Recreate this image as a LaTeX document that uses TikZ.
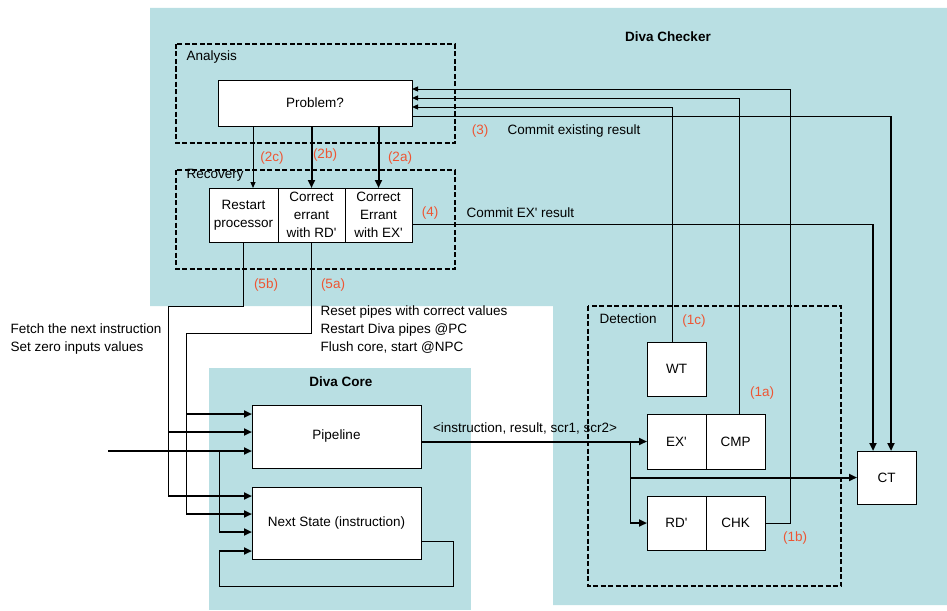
\documentclass[tikz,border=0pt]{standalone}
\usepackage{fontspec}
\setmainfont{Liberation Sans}
\usepackage{tikz}
\usetikzlibrary{positioning,arrows.meta,calc}
\definecolor{panel}{HTML}{B9DFE3}
\definecolor{stepred}{HTML}{EE5533}
\newcommand{\dfont}{\fontsize{13.5}{18}\selectfont}

\begin{document}
\begin{tikzpicture}[
  x=1pt,y=-1pt,font=\dfont,>={Triangle[length=6pt,width=5pt]},
  wire/.style={line width=1pt},
  bold/.style={line width=2pt,>={Triangle[length=8pt,width=7pt]}},
  blk/.style={draw,fill=white,line width=1pt,inner sep=1pt,outer sep=0pt,align=center},
  zone/.style={line width=1.5pt,dash pattern=on 5pt off 2.5pt},
  tag/.style={text=stepred},
]
\useasboundingbox (0,0) rectangle (947,610);
% shaded areas
\fill[panel] (150,8) -- (947,8) -- (947,605) -- (553,605) -- (553,306) -- (150,306) -- cycle;
\fill[panel] (209,368) rectangle (471,610);
\draw[zone] (176,44) rectangle (455,143);
\draw[zone] (176,170) rectangle (455,269);
\draw[zone] (588,306) rectangle (841,586);

% titles
\node[font=\dfont\bfseries] (chkT) at (668,37) {Diva Checker};
\node[font=\dfont\bfseries] (coreT) at (341,382) {Diva Core};
\node[anchor=west] (anaT) at (183,57) {Analysis};
\node[anchor=west] (recT) at (183,175) {Recovery};
\node[anchor=west] (detT) at (596,319) {Detection};

% blocks
\node[blk,minimum width=194,minimum height=46] (prob) at (315,103) {Problem?};
\node[blk,minimum width=69,minimum height=54] (rst) at (243.5,215) {Restart\\processor};
\node[blk,minimum width=67,minimum height=54,right=0pt of rst] (fixrd) {Correct\\errant\\with RD\textquotesingle};
\node[blk,minimum width=67,minimum height=54,right=0pt of fixrd] (fixex) {Correct\\Errant\\with EX\textquotesingle};
\node[blk,minimum width=59,minimum height=54] (wt) at (676.5,369) {WT};
\node[blk,minimum width=59,minimum height=55] (exp) at (676.5,441.5) {EX\textquotesingle};
\node[blk,minimum width=59,minimum height=55,right=0pt of exp] (cmp) {CMP};
\node[blk,minimum width=59,minimum height=54] (rdp) at (676.5,523) {RD\textquotesingle};
\node[blk,minimum width=59,minimum height=54,right=0pt of rdp] (chk) {CHK};
\node[blk,minimum width=59,minimum height=53] (ct) at (886.5,477.5) {CT};
\node[blk,minimum width=169,minimum height=63] (pipe) at (336.5,436.5) {Pipeline};
\node[blk,minimum width=169,minimum height=72] (nxt) at (336.5,523) {Next State (instruction)};

% analysis -> recovery
\draw[wire,->] ($(prob.south west)+(35,0)$) -- ($(rst.north)+(9.5,0)$);
\draw[bold,->] (prob.south -| fixrd.north) -- (fixrd.north);
\draw[bold,->] (prob.south -| fixex.north) -- (fixex.north);

% detection -> analysis
\coordinate (in1) at ($(prob.east)+(0,-14)$);
\coordinate (in2) at ($(prob.east)+(0,-5)$);
\coordinate (in3) at ($(prob.east)+(0,4)$);
\coordinate (out3) at ($(prob.east)+(0,13)$);
\draw[wire,->] (chk.east) -- ++(25,0) |- (in1);
\draw[wire,->] ($(cmp.north)+(3.5,0)$) |- (in2);
\draw[wire,->] ($(wt.north)+(-4.5,0)$) |- (in3);

% commit to CT
\coordinate (ct3) at ($(ct.north)+(4.5,0)$);
\coordinate (ct4) at ($(ct.north)+(-13.5,0)$);
\coordinate (ex4) at ($(fixex.east)+(0,9)$);
\draw[wire] (out3) -- (out3 -| ct3);
\draw[bold,->] (out3 -| ct3) -- (ct3);
\draw[wire] (ex4) -- (ex4 -| ct4);
\draw[bold,->] (ex4 -| ct4) -- (ct4);
\node[anchor=west] (cmt3) at (504,131) {Commit existing result};
\node[anchor=west] (cmt4) at (463,213) {Commit EX\textquotesingle{} result};

% recovery -> core
\coordinate (k5b) at (168,306);
\coordinate (k5a) at (186,333);
\coordinate (p1) at ($(pipe.west)+(0,-22.5)$);
\coordinate (p2) at ($(pipe.west)+(0,-4.5)$);
\coordinate (p3) at ($(pipe.west)+(0,14.5)$);
\coordinate (n1) at ($(nxt.west)+(0,-27)$);
\coordinate (n2) at ($(nxt.west)+(0,-9)$);
\coordinate (n3) at ($(nxt.west)+(0,9)$);
\coordinate (n4) at ($(nxt.west)+(0,28)$);
\draw[wire] (rst.south) |- (k5b) -- (k5b |- n1);
\draw[bold,->] (k5b |- p2) -- (p2);
\draw[bold,->] (k5b |- n1) -- (n1);
\draw[wire] (fixrd.south) |- (k5a) -- (k5a |- n2);
\draw[bold,->] (k5a |- p1) -- (p1);
\draw[bold,->] (k5a |- n2) -- (n2);
\node[anchor=west,align=left] (fetch) at (7,339) {Fetch the next instruction\\Set zero inputs values};
\node[anchor=west,align=left] (reset) at (317,330) {Reset pipes with correct values\\Restart Diva pipes @PC\\Flush core, start @NPC};

% core inputs and loop
\coordinate (ext) at (108,451);
\coordinate (j3) at (219,451);
\coordinate (lp) at (219,586);
\draw[bold,->] (ext) -- (p3);
\draw[wire] (j3) -- (j3 |- n3);
\draw[bold,->] (j3 |- n3) -- (n3);
\draw[wire] ($(nxt.east)+(0,18)$) -- ++(32,0) |- (lp) -- (lp |- n4);
\draw[bold,->] (lp |- n4) -- (n4);

% core -> detection
\coordinate (br) at ($(exp.west)+(-17,0)$);
\draw[bold,->] (pipe.east |- exp.west) -- (exp.west);
\draw[wire] (br) -- (br |- rdp.west);
\draw[bold,->] (br |- rdp.west) -- (rdp.west);
\draw[bold,->] (br |- ct.west) -- (ct.west);
\node (tuple) at (525,428) {<instruction, result, scr1, scr2>};

% step numbers
\foreach \lab/\px/\py in {2c/272/158,2b/325/155,2a/400/158,3/480/131,4/430/213,5b/266/285,5a/333/285,1c/694/321,1a/762/393,1b/795/538}
  \node[tag] (s\lab) at (\px,\py) {(\lab)};
\end{tikzpicture}
\end{document}
